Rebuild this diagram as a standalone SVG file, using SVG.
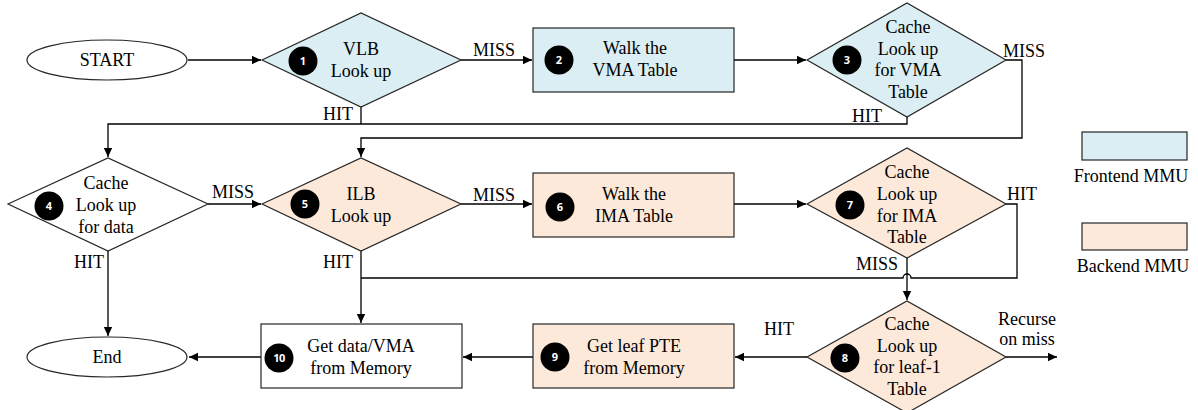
<svg xmlns="http://www.w3.org/2000/svg" width="1198" height="410" viewBox="0 0 1198 410" font-family="Liberation Serif, serif">
<style>
text{font-family:"Liberation Serif",serif}
.t{font-size:18px;fill:#000;text-anchor:middle}
.l{font-size:18px;fill:#000}
.n{font-family:"Open Sans","DejaVu Sans",sans-serif;font-size:11px;font-weight:bold;fill:#fff;text-anchor:middle}
.fe{fill:#DAEEF3;stroke:#262626;stroke-width:1.2}
.be{fill:#FDE9D9;stroke:#262626;stroke-width:1.2}
.wh{fill:#fff;stroke:#262626;stroke-width:1.2}
.c{fill:none;stroke:#000;stroke-width:1.3}
</style>
<defs>
<marker id="a" markerWidth="10" markerHeight="10" refX="9" refY="5" orient="auto" markerUnits="userSpaceOnUse">
<path d="M0,0.8 L9,5 L0,9.2 Z" fill="#000"/>
</marker>
</defs>
<rect width="1198" height="410" fill="#fff"/>

<g id="connectors">
<path class="c" d="M188,60 H261" marker-end="url(#a)"/>
<path class="c" d="M461,60 H532" marker-end="url(#a)"/>
<path class="c" d="M734,60 H806" marker-end="url(#a)"/>
<path class="c" d="M361,107 V124"/>
<path class="c" d="M907,117 V124 H108 V157" marker-end="url(#a)"/>
<path class="c" d="M1006,60 H1022 V138 H361 V157" marker-end="url(#a)"/>
<path class="c" d="M208,204 H261" marker-end="url(#a)"/>
<path class="c" d="M108,251 V336" marker-end="url(#a)"/>
<path class="c" d="M461,204 H532" marker-end="url(#a)"/>
<path class="c" d="M734,204 H806" marker-end="url(#a)"/>
<path class="c" d="M361,251 V323" marker-end="url(#a)"/>
<path class="c" d="M1006,204 H1017 V278 H911 A4,4 0 0 0 903,278 H361"/>
<path class="c" d="M907,258 V300" marker-end="url(#a)"/>
<path class="c" d="M807,357 H735" marker-end="url(#a)"/>
<path class="c" d="M1006,357 H1057" marker-end="url(#a)"/>
<path class="c" d="M533,357 H463" marker-end="url(#a)"/>
<path class="c" d="M261,357 H189" marker-end="url(#a)"/>
<text class="l" x="473" y="56">MISS</text>
<text class="l" x="1003" y="57">MISS</text>
<text class="l" x="323" y="120">HIT</text>
<text class="l" x="852" y="122">HIT</text>
<text class="l" x="212" y="198">MISS</text>
<text class="l" x="473" y="201">MISS</text>
<text class="l" x="1007" y="200">HIT</text>
<text class="l" x="74" y="268">HIT</text>
<text class="l" x="323" y="268">HIT</text>
<text class="l" x="856" y="270">MISS</text>
<text class="l" x="764" y="335">HIT</text>
<text class="t" x="1027" y="325">Recurse</text>
<text class="t" x="1027" y="345">on miss</text>
</g>

<g id="start">
<ellipse cx="107" cy="60" rx="80" ry="20" class="wh"/>
<text class="t" x="107" y="66">START</text>
</g>

<g id="n1">
<polygon points="262,60 361,13 461,60 361,107" class="fe"/>
<circle cx="303" cy="61" r="14.5" fill="#000"/>
<text class="n" x="303" y="65">1</text>
<text class="t" x="361" y="55">VLB</text>
<text class="t" x="361" y="77">Look up</text>
</g>

<g id="n2">
<rect x="533" y="28" width="201" height="64" class="fe"/>
<circle cx="559" cy="60" r="14.5" fill="#000"/>
<text class="n" x="559" y="64">2</text>
<text class="t" x="635" y="54">Walk the</text>
<text class="t" x="635" y="76">VMA Table</text>
</g>

<g id="n3">
<polygon points="807,60 907,3 1006,60 907,117" class="fe"/>
<circle cx="847" cy="60" r="14.5" fill="#000"/>
<text class="n" x="847" y="64">3</text>
<text class="t" x="908" y="33">Cache</text>
<text class="t" x="908" y="55">Look up</text>
<text class="t" x="908" y="76">for VMA</text>
<text class="t" x="908" y="98">Table</text>
</g>

<g id="n4">
<polygon points="8,204 108,158 208,204 108,251" class="wh"/>
<circle cx="49" cy="206" r="14.5" fill="#000"/>
<text class="n" x="49" y="210">4</text>
<text class="t" x="106" y="189">Cache</text>
<text class="t" x="106" y="211">Look up</text>
<text class="t" x="106" y="233">for data</text>
</g>

<g id="n5">
<polygon points="262,204 361,158 461,204 361,251" class="be"/>
<circle cx="305" cy="204" r="14.5" fill="#000"/>
<text class="n" x="305" y="208">5</text>
<text class="t" x="361" y="200">ILB</text>
<text class="t" x="361" y="222">Look up</text>
</g>

<g id="n6">
<rect x="533" y="173" width="201" height="64" class="be"/>
<circle cx="560" cy="207" r="14.5" fill="#000"/>
<text class="n" x="560" y="211">6</text>
<text class="t" x="634" y="200">Walk the</text>
<text class="t" x="634" y="222">IMA Table</text>
</g>

<g id="n7">
<polygon points="807,204 907,148 1006,204 907,258" class="be"/>
<circle cx="850" cy="205" r="14.5" fill="#000"/>
<text class="n" x="850" y="209">7</text>
<text class="t" x="907" y="178">Cache</text>
<text class="t" x="907" y="200">Look up</text>
<text class="t" x="907" y="222">for IMA</text>
<text class="t" x="907" y="243">Table</text>
</g>

<g id="n8">
<polygon points="807,357 907,301 1006,357 907,413" class="be"/>
<circle cx="845" cy="358" r="14.5" fill="#000"/>
<text class="n" x="845" y="362">8</text>
<text class="t" x="907" y="330">Cache</text>
<text class="t" x="907" y="352">Look up</text>
<text class="t" x="907" y="373">for leaf-1</text>
<text class="t" x="907" y="395">Table</text>
</g>

<g id="n9">
<rect x="533" y="324" width="201" height="64" class="be"/>
<circle cx="555" cy="357" r="14.5" fill="#000"/>
<text class="n" x="555" y="361">9</text>
<text class="t" x="634" y="352">Get leaf PTE</text>
<text class="t" x="634" y="374">from Memory</text>
</g>

<g id="n10">
<rect x="261" y="324" width="201" height="64" class="wh"/>
<circle cx="279" cy="358" r="14.5" fill="#000"/>
<text class="n" x="279" y="362" style="letter-spacing:-0.5px">10</text>
<text class="t" x="361" y="352">Get data/VMA</text>
<text class="t" x="361" y="374">from Memory</text>
</g>

<g id="end">
<ellipse cx="107" cy="357" rx="80" ry="20" class="wh"/>
<text class="t" x="107" y="363">End</text>
</g>

<g id="legend">
<rect x="1082" y="132" width="105" height="28" class="fe"/>
<text class="t" x="1131" y="182">Frontend MMU</text>
<rect x="1082" y="223" width="105" height="27" class="be"/>
<text class="t" x="1133" y="272">Backend MMU</text>
</g>
</svg>
